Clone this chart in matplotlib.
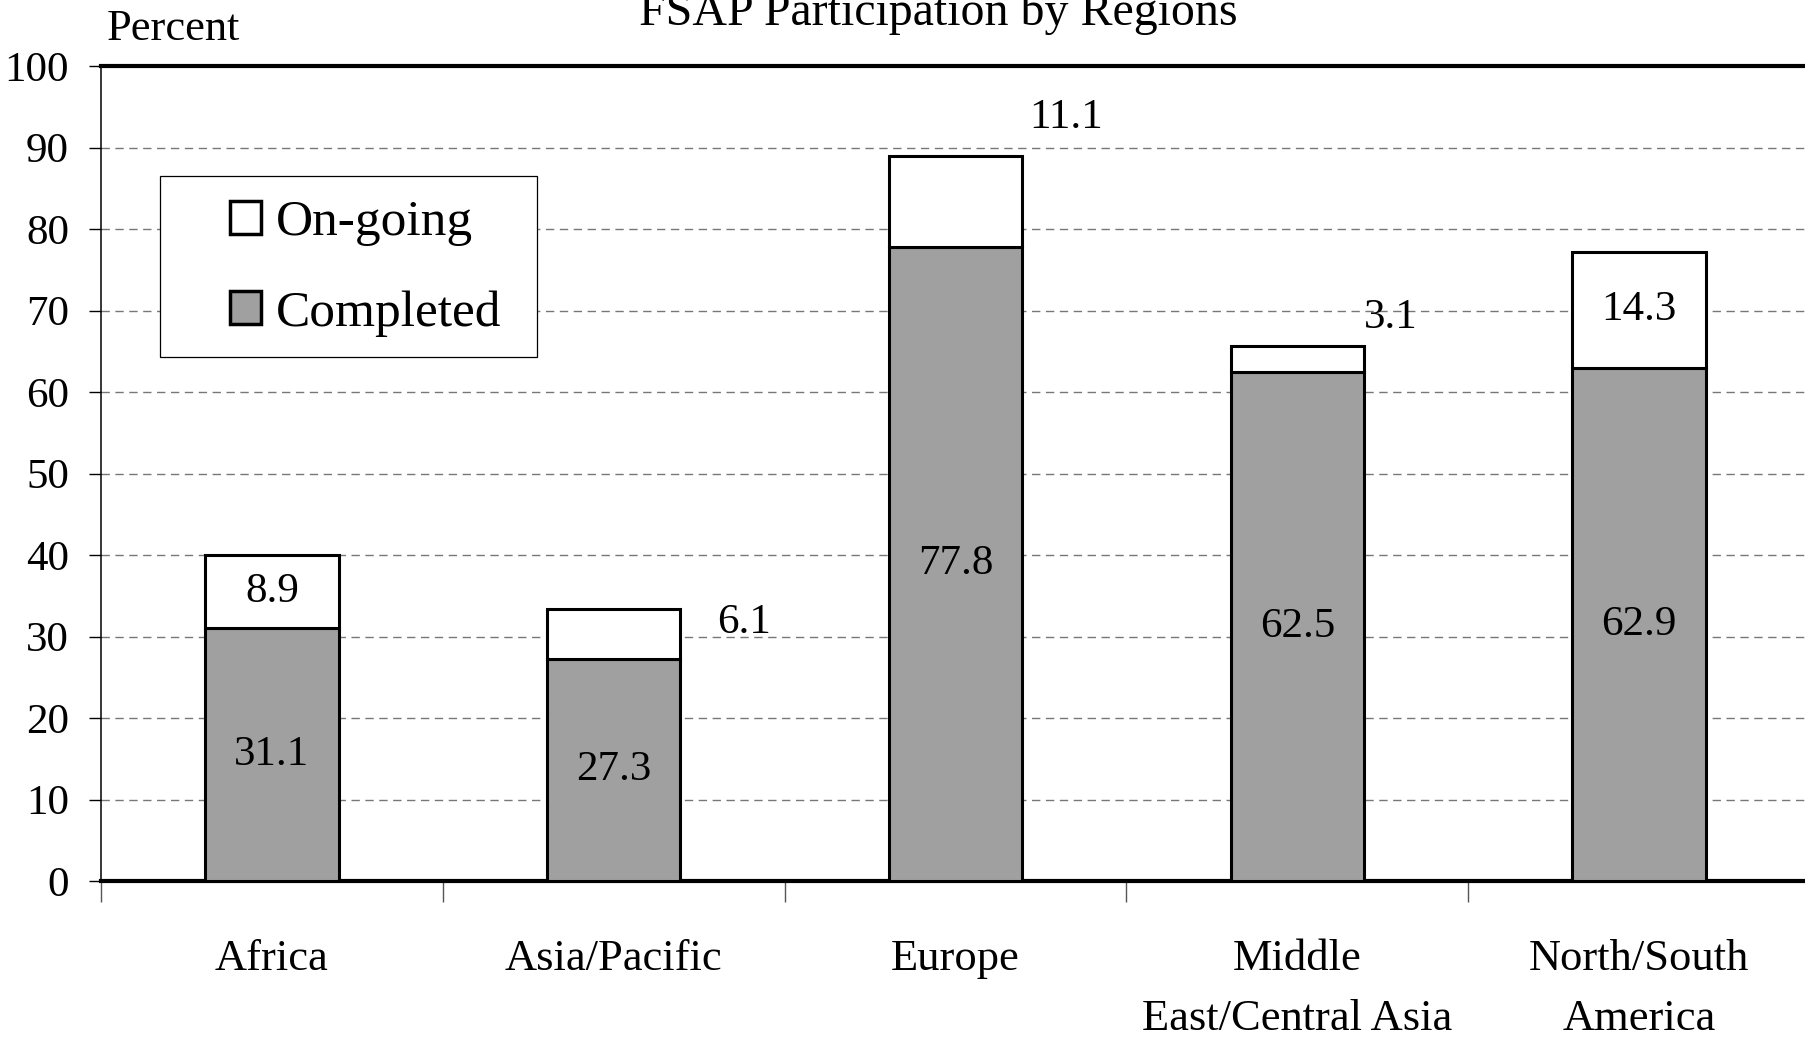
import matplotlib
matplotlib.use('Agg')
import matplotlib.pyplot as plt
from matplotlib.patches import Rectangle, Patch
import numpy as np

# ---- data ----
regions = ["Africa", "Asia/Pacific", "Europe", "Middle\nEast/Central Asia", "North/South\nAmerica"]
completed = [31.1, 27.3, 77.8, 62.5, 62.9]
ongoing = [8.9, 6.1, 11.1, 3.1, 14.3]
y_ticks = [0, 10, 20, 30, 40, 50, 60, 70, 80, 90, 100]
series_names = ["On-going", "Completed"]
title = "FSAP Participation by Regions"
y_label = "Percent"

# ---- style ----
# on-going label placement: None = centred in segment, else (dx px, dy px) from stack top centre
ongoing_label_offsets = [None, (130, -14), (111, 39), (93, 29), None]

W, H = 1806, 1045
plt.rcParams['font.family'] = ['Liberation Serif', 'DejaVu Serif']
fig = plt.figure(figsize=(W / 100, H / 100), dpi=100)
ax_l, ax_r, ax_t, ax_b = 101, 1810, 66, 881
ax = fig.add_axes([ax_l / W, 1 - ax_b / H, (ax_r - ax_l) / W, (ax_b - ax_t) / H])

x = np.arange(len(regions))
bw = 0.39
gray = '#a0a0a0'
ax.bar(x, completed, bw, color=gray, edgecolor='black', linewidth=2.2, zorder=3)
ax.bar(x, ongoing, bw, bottom=completed, color='white', edgecolor='black', linewidth=2.2, zorder=3)

ax.set_xlim(-0.5, len(regions) - 0.5)
ax.set_ylim(0, 100)
ax.set_yticks(y_ticks)
ax.set_yticklabels([str(v) for v in y_ticks], fontsize=31)
ax.tick_params(axis='y', length=9, width=1, pad=14, direction='out')

# gridlines
for v in y_ticks[1:-1]:
    ax.axhline(v, color='#777777', linewidth=1.0, linestyle=(0, (6, 4)), zorder=1)

# x ticks: boundaries (major, no labels), centres (minor, labels)
ax.set_xticks(np.arange(len(regions) + 1) - 0.5)
ax.set_xticklabels([])
ax.tick_params(axis='x', which='major', length=15, width=1, direction='out', color='#555555')
ax.set_xticks(x, minor=True)
ax.set_xticklabels(regions, minor=True, fontsize=32, linespacing=1.62)
ax.tick_params(axis='x', which='minor', length=0, pad=42)

ax.spines['right'].set_visible(False)
ax.spines['left'].set_linewidth(1.1)
ax.spines['bottom'].set_linewidth(3)
ax.spines['top'].set_linewidth(3)

# value labels
for i in range(len(regions)):
    ax.text(x[i], completed[i] / 2, f"{completed[i]:.1f}", ha='center', va='center',
            fontsize=31, zorder=5)
    off = ongoing_label_offsets[i]
    if off is None:
        ax.text(x[i], completed[i] + ongoing[i] / 2, f"{ongoing[i]:.1f}", ha='center',
                va='center', fontsize=31, zorder=5)
    else:
        ax.annotate(f"{ongoing[i]:.1f}", xy=(x[i], completed[i] + ongoing[i]),
                    xytext=(off[0] * 0.72, off[1] * 0.72), textcoords='offset points',
                    ha='center', va='center', fontsize=31, zorder=5)

# legend with separate frame
lx0, lx1, ly0, ly1 = 160, 537, 176, 357
def fx(px):
    return (px - ax_l) / (ax_r - ax_l)
def fy(py):
    return (ax_b - py) / (ax_b - ax_t)
ax.add_patch(Rectangle((fx(lx0), fy(ly1)), fx(lx1) - fx(lx0), fy(ly0) - fy(ly1),
                       transform=ax.transAxes, facecolor='white', edgecolor='black',
                       linewidth=0.9, zorder=6))
handles = [Patch(facecolor='white', edgecolor='black', linewidth=2.5),
           Patch(facecolor=gray, edgecolor='black', linewidth=2.5)]
leg = ax.legend(handles, series_names, loc='upper left', bbox_to_anchor=(fx(230), fy(200)),
                bbox_transform=ax.transAxes, frameon=False, fontsize=37,
                handlelength=0.6, handleheight=0.6, handletextpad=0.3,
                labelspacing=0.85, borderpad=0, borderaxespad=0)
leg.set_zorder(7)

# title and axis label
fig.text(938 / W, 1 - 25 / H, title, ha='center', va='baseline', fontsize=34.5)
fig.text(107 / W, 1 - 40 / H, y_label, ha='left', va='baseline', fontsize=32)

fig.savefig('out.png', dpi=100)
